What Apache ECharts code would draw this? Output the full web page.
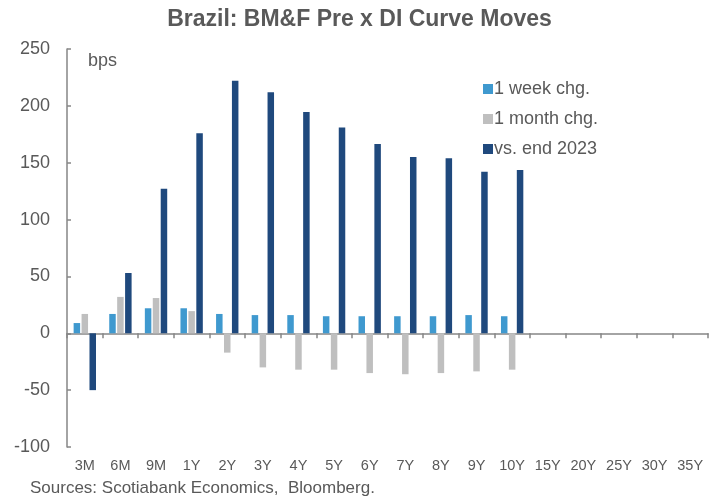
<!DOCTYPE html>
<html>
<head>
<meta charset="utf-8">
<script src="https://cdn.jsdelivr.net/npm/echarts@6/dist/echarts.min.js"></script>
<style>
html, body { margin: 0; padding: 0; background: #fff; }
#chart { width: 719px; height: 502px; }
</style>
</head>
<body>
<div id="chart"></div>
<script>
// tenors along the curve
var tenors = ['3M', '6M', '9M', '1Y', '2Y', '3Y', '4Y', '5Y', '6Y', '7Y', '8Y', '9Y', '10Y', '15Y', '20Y', '25Y', '30Y', '35Y'];
// changes in bps (no data past 10Y)
var weekChg  = [9, 17, 22, 22, 17, 16, 16, 15, 15, 15, 15, 16, 15, null, null, null, null, null];
var monthChg = [17, 32, 31, 19.5, -17, -30, -32, -32, -35, -36, -35, -33.5, -32, null, null, null, null, null];
var vsEnd2023 = [-50, 53, 127, 176, 222, 212, 194.5, 181, 166.5, 155, 154, 142, 143.5, null, null, null, null, null];
var yTicks = { min: -100, max: 250, step: 50 };

var textGray = '#595959';
var axisGray = '#868686';
var font = 'Liberation Sans, Arial, sans-serif';

var chart = echarts.init(document.getElementById('chart'));
var option = {
    animation: false,
    textStyle: { fontFamily: font },
    title: {
        text: 'Brazil: BM&F Pre x DI Curve Moves',
        left: 'center',
        top: 3,
        textStyle: { color: textGray, fontSize: 23, fontWeight: 'bold', fontFamily: font }
    },
    legend: {
        orient: 'vertical',
        left: 478,
        top: 75,
        itemWidth: 10,
        itemHeight: 10,
        itemGap: 12,
        icon: 'rect',
        textStyle: { color: textGray, fontSize: 18, fontFamily: font, padding: [0, 0, 0, -4] },
        data: ['1 week chg.', '1 month chg.', 'vs. end 2023']
    },
    grid: { left: 67, right: 11, top: 49, bottom: 55 },
    graphic: [
        {
            type: 'text', left: 88, top: 52,
            style: { text: 'bps', fill: textGray, font: '18px ' + font }
        },
        {
            type: 'text', left: 30, top: 480,
            style: { text: 'Sources: Scotiabank Economics,  Bloomberg.', fill: textGray, font: '17px ' + font }
        }
    ],
    xAxis: [
        {
            type: 'category',
            data: tenors,
            axisLine: { onZero: true, lineStyle: { color: axisGray, width: 1.5 } },
            axisTick: { show: true, length: 5, lineStyle: { color: axisGray, width: 1.5 } },
            axisLabel: { show: false }
        },
        {
            type: 'category',
            data: tenors,
            position: 'bottom',
            axisLine: { show: false, onZero: false },
            axisTick: { show: false },
            axisLabel: { color: textGray, fontSize: 14.5, margin: 11, fontFamily: font }
        }
    ],
    yAxis: {
        type: 'value',
        min: yTicks.min,
        max: yTicks.max,
        interval: yTicks.step,
        splitLine: { show: false },
        axisLine: { show: true, lineStyle: { color: axisGray, width: 1.5 } },
        axisTick: { show: true, inside: true, length: 4, lineStyle: { color: axisGray, width: 1.5 } },
        axisLabel: { color: textGray, fontSize: 18, margin: 17, fontFamily: font }
    },
    series: [
        {
            name: '1 week chg.',
            type: 'bar',
            barWidth: 6.5,
            barGap: '22%',
            itemStyle: { color: '#3f99cf' },
            data: weekChg
        },
        {
            name: '1 month chg.',
            type: 'bar',
            barWidth: 6.5,
            barGap: '22%',
            itemStyle: { color: '#bfbfbf' },
            data: monthChg
        },
        {
            name: 'vs. end 2023',
            type: 'bar',
            barWidth: 6.5,
            barGap: '22%',
            itemStyle: { color: '#1f497d' },
            data: vsEnd2023
        }
    ]
};
chart.setOption(option);
</script>
</body>
</html>
